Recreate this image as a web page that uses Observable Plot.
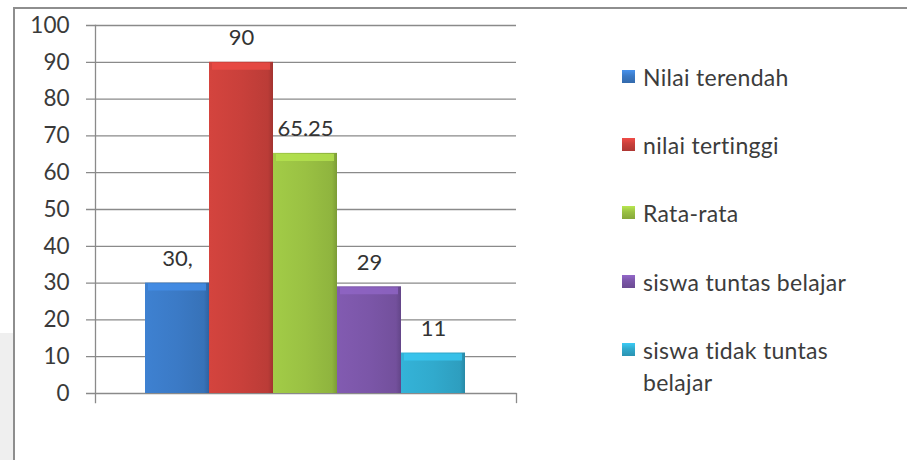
<!DOCTYPE html>
<html>
<head>
<meta charset="utf-8">
<script src="https://cdn.jsdelivr.net/npm/d3@7"></script>
<script src="https://cdn.jsdelivr.net/npm/@observablehq/plot@0.6"></script>
<style>
  html, body { margin: 0; padding: 0; background: #fff; }
  #wrap { position: relative; width: 907px; height: 460px; overflow: hidden; font-family: Lato, "Open Sans", sans-serif; }
  #strip { position: absolute; left: 0; top: 333px; width: 13px; height: 127px; background: #efefef; }
  #border { position: absolute; left: 13px; top: 7px; right: -4px; bottom: -4px; border-top: 2px solid #8e8e8e; border-left: 2px solid #8e8e8e; }
  #chart { position: absolute; left: 0; top: 0; }
  #legend { position: absolute; left: 622px; top: 0; color: #3c3c3c; font-size: 23px; letter-spacing: 0.3px; }
  .item { position: absolute; left: 0; white-space: nowrap; }
  .sw { position: absolute; left: 0; width: 13px; height: 13px; }
  .lab { position: absolute; left: 21px; line-height: 32px; }
</style>
</head>
<body>
<div id="wrap">
  <div id="strip"></div>
  <div id="border"></div>
  <div id="chart"></div>
  <div id="legend"></div>
</div>
<script>
const categories = ["Nilai terendah", "nilai tertinggi", "Rata-rata", "siswa tuntas belajar", "siswa tidak tuntas belajar"];
const legendLines = [["Nilai terendah"], ["nilai tertinggi"], ["Rata-rata"], ["siswa tuntas belajar"], ["siswa tidak tuntas", "belajar"]];
const values = [30, 90, 65.25, 29, 11];
const valueLabels = ["30,", "90", "65.25", "29", "11"];
const baseColors = ["#3b7ac6", "#c9403b", "#9ac143", "#7b56a8", "#31aacd"];
const yTicks = [0, 10, 20, 30, 40, 50, 60, 70, 80, 90, 100];

const data = categories.map((c, i) => ({
  cat: c, value: values[i], label: valueLabels[i],
  grad: `url(#grad${i})`,
  bevel: d3.color(baseColors[i]).brighter(0.45).formatHex()
}));

function defs() {
  const ns = "http://www.w3.org/2000/svg";
  const d = document.createElementNS(ns, "defs");
  baseColors.forEach((c, i) => {
    const g = document.createElementNS(ns, "linearGradient");
    g.setAttribute("id", `grad${i}`);
    g.setAttribute("x1", "0"); g.setAttribute("x2", "1");
    g.setAttribute("y1", "0"); g.setAttribute("y2", "0");
    const stops = [[0, d3.color(c).brighter(0.15)], [0.5, d3.color(c)], [0.92, d3.color(c).darker(0.2)], [1, d3.color(c).darker(0.6)]];
    stops.forEach(([o, col]) => {
      const s = document.createElementNS(ns, "stop");
      s.setAttribute("offset", o);
      s.setAttribute("stop-color", col.formatHex());
      g.appendChild(s);
    });
    d.appendChild(g);
  });
  return d;
}

const chart = Plot.plot({
  width: 907,
  height: 460,
  marginLeft: 95,
  marginRight: 391,
  marginTop: 25,
  marginBottom: 67,
  style: { background: "transparent", fontFamily: "Lato, 'Open Sans', sans-serif" },
  x: { type: "band", domain: categories, padding: 0, insetLeft: 48, insetRight: 49, axis: null },
  y: { domain: [0, 100], ticks: yTicks, axis: null, label: null },
  color: { type: "identity" },
  marks: [
    defs,
    Plot.ruleY(yTicks, { stroke: "#8a8a8a", strokeWidth: 1.3, insetLeft: -9 }),
    Plot.frame({ anchor: "left", stroke: "#8a8a8a", strokeWidth: 1.3, insetBottom: -9 }),
    Plot.frame({ anchor: "right", stroke: "#8a8a8a", strokeWidth: 1.3, insetTop: 368, insetBottom: -9 }),
    Plot.axisY({ ticks: yTicks, tickSize: 0, tickPadding: 26, fontSize: 22.5, fill: "#3a3a3a", label: null }),
    Plot.barY(data, { x: "cat", y: "value", fill: "grad" }),
    Plot.tickY(data, { x: "cat", y: "value", stroke: "bevel", strokeWidth: 7, dy: 4, insetLeft: 3, insetRight: 3, strokeOpacity: 0.8 }),
    Plot.text(data, { x: "cat", y: "value", text: "label", dy: -24, fontSize: 22, fill: "#333" })
  ]
});
document.getElementById("chart").appendChild(chart);

const rowsY = [77, 145, 213, 282, 350];
const legend = document.getElementById("legend");
legendLines.forEach((lines, i) => {
  const item = document.createElement("div");
  item.className = "item";
  item.style.top = (rowsY[i] - 16) + "px";
  const sw = document.createElement("div");
  sw.className = "sw";
  sw.style.top = "9px";
  sw.style.background = `linear-gradient(180deg, ${d3.color(baseColors[i]).brighter(0.5)} 0%, ${baseColors[i]} 45%, ${d3.color(baseColors[i]).darker(0.4)} 100%)`;
  const lab = document.createElement("div");
  lab.className = "lab";
  lab.innerHTML = lines.join("<br>");
  item.appendChild(sw);
  item.appendChild(lab);
  legend.appendChild(item);
});
</script>
</body>
</html>
